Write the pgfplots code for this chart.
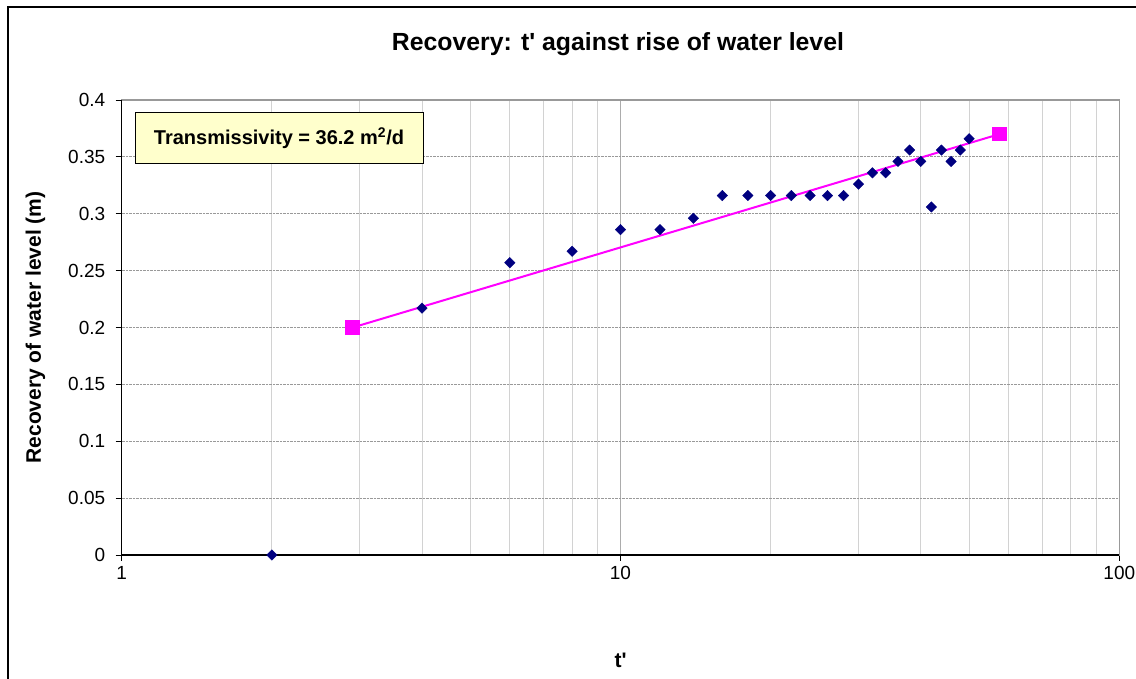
\documentclass[border=0pt]{standalone}
\usepackage{pgfplots}
\pgfplotsset{compat=1.18}
\usepackage{fontspec}
\setmainfont{Liberation Sans}
\definecolor{navy}{HTML}{000080}
\definecolor{pinkm}{HTML}{FF00FF}
\definecolor{boxy}{HTML}{FFFFCC}
\begin{document}
\begin{tikzpicture}
\useasboundingbox (0pt,0pt) rectangle (1136pt,679pt);
\draw[line width=2pt] (8.3pt,-30pt) -- (8.3pt,672pt) -- (1160pt,672pt);
\node[font=\bfseries\fontsize{24.8}{28}\selectfont, anchor=base] at (618pt,628.5pt) {Recovery: t\textquotesingle{} against rise of water level};
\begin{axis}[
  at={(121.7pt,124pt)}, anchor=south west,
  scale only axis, width=997.6pt, height=455pt,
  xmode=log, xmin=1, xmax=100, ymin=0, ymax=0.4,
  log basis x=10,
  xtick={1,10,100}, xticklabels={1,10,100},
  minor xtick={2,3,4,5,6,7,8,9,20,30,40,50,60,70,80,90},
  ytick={0,0.05,0.1,0.15,0.2,0.25,0.3,0.35,0.4},
  yticklabels={0,0.05,0.1,0.15,0.2,0.25,0.3,0.35,0.4},
  xtick pos=bottom, ytick pos=left,
  tick align=outside, major tick length=6pt, minor tick length=0pt,
  tick style={black, line width=0.8pt},
  xmajorgrids, xminorgrids, ymajorgrids,
  x grid style={solid, color=gray!65, line width=1pt},
  minor x grid style={solid, color=gray!35, line width=1pt},
  y grid style={densely dotted, color=gray!80, line width=0.8pt},
  axis line style={draw=gray!80, line width=1.5pt},
  ticklabel style={font=\fontsize{19}{22}\selectfont},
  xticklabel style={yshift=-2pt},
  yticklabel style={xshift=-7pt},
  /pgf/number format/assume math mode=true,
  xlabel={t\textquotesingle}, ylabel={Recovery of water level (m)},
  label style={font=\bfseries\fontsize{21}{24}\selectfont},
  xlabel style={at={(axis description cs:0.5,0)}, anchor=base, yshift=-113pt},
  ylabel style={yshift=16pt},
  clip=false,
]
\draw[black, line width=1.5pt] (rel axis cs:0,1) -- (rel axis cs:0,0) -- (rel axis cs:1,0);
\addplot[only marks, mark=square*, mark size=3.7pt, mark options={rotate=45, fill=navy, draw=navy}] coordinates {
(2,0) (4,0.217) (6,0.257) (8,0.267) (10,0.286) (12,0.286) (14,0.296)
(16,0.316) (18,0.316) (20,0.316) (22,0.316) (24,0.316) (26,0.316) (28,0.316)
(30,0.326) (32,0.336) (34,0.336) (36,0.346) (38,0.356) (40,0.346) (42,0.306)
(44,0.356) (46,0.346) (48,0.356) (50,0.366)
};
\addplot[pinkm, line width=2pt, mark=square*, mark size=6.3pt, mark options={fill=pinkm, draw=pinkm}] coordinates {
(2.905,0.2) (57.5,0.370)
};
\end{axis}
\node[draw=black, line width=1pt, fill=boxy, minimum width=288pt, minimum height=51pt, font=\bfseries\fontsize{20}{24}\selectfont] at (279pt,540.6pt) {Transmissivity = 36.2 m\textsuperscript{2}/d};
\end{tikzpicture}
\end{document}
